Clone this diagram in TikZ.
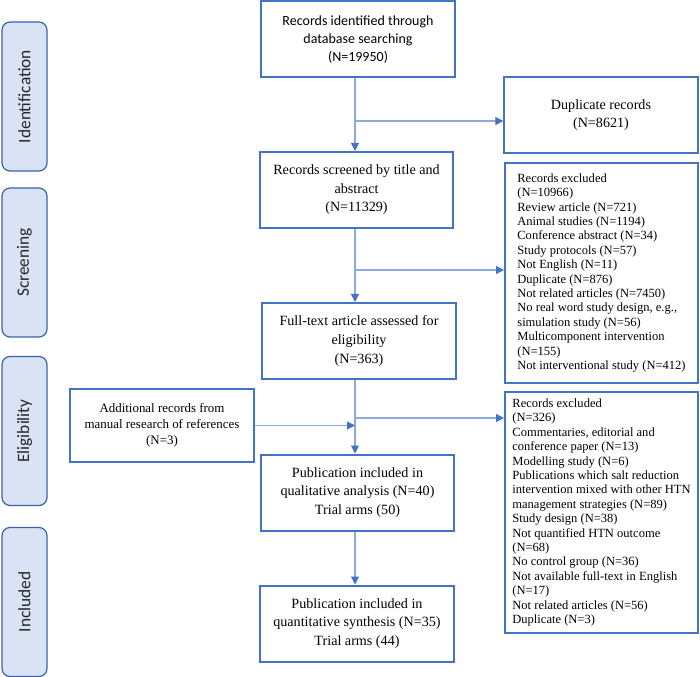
\documentclass[tikz,border=0pt]{standalone}
\usepackage{fontspec}
\setmainfont{Liberation Serif}
\newfontfamily\calibrifont{Carlito}
\usetikzlibrary{arrows.meta}
\definecolor{boxblue}{HTML}{4472C4}
\definecolor{linkblue}{HTML}{8EAADB}
\definecolor{phasefill}{HTML}{DAE3F3}
\definecolor{phaseline}{HTML}{3A62A8}
\tikzset{
    mainbox/.style={draw=boxblue, line width=1.5pt, align=center, minimum width=145pt, minimum height=57pt, font=\fontsize{10.6}{13.9}\selectfont},
    listbox/.style={draw=boxblue, line width=1.5pt, align=left, minimum width=144.75pt, font=\fontsize{9.4}{10.8}\selectfont},
    phasebox/.style={draw=phaseline, fill=phasefill, line width=0.9pt, rounded corners=6pt, rotate=90, minimum width=111.75pt, minimum height=33.75pt, text=black!85, font=\calibrifont\fontsize{13}{15}\selectfont},
    link/.style={draw=linkblue, line width=0.8pt, -{Triangle[length=6pt,width=6pt,color=boxblue]}}
}
\begin{document}
\begin{tikzpicture}[x=0.75pt,y=-0.75pt]
        \useasboundingbox (0,0) rectangle (700,677);
        \node[phasebox] (identification) at (24.5,96.5) {Identification};
        \node[phasebox] (screening) at (24.5,262.5) {Screening};
        \node[phasebox] (eligibility) at (24.5,431) {Eligibility};
        \node[phasebox] (included) at (24.5,602) {Included};
        \node[mainbox, font=\calibrifont\fontsize{10.5}{13.7}\selectfont] (identified) at (358,39.5) {Records identified through\\database searching\\(N=19950)};
        \node[mainbox] (duplicates) at (601,115) {Duplicate records\\(N=8621)};
        \node[mainbox] (screened) at (356.5,190) {Records screened by title and\\abstract\\(N=11329)};
        \node[listbox, minimum height=165pt] (excludedA) at (601.5,273) {Records excluded\\(N=10966)\\Review article (N=721)\\Animal studies (N=1194)\\Conference abstract (N=34)\\Study protocols (N=57)\\Not English (N=11)\\Duplicate (N=876)\\Not related articles (N=7450)\\No real word study design, e.g.,\\simulation study (N=56)\\Multicomponent intervention\\(N=155)\\Not interventional study (N=412)};
        \node[mainbox] (fulltext) at (359,341) {Full-text article assessed for\\eligibility\\(N=363)};
        \node[listbox, minimum height=180.75pt] (excludedB) at (601.5,512.5) {Records excluded\\(N=326)\\Commentaries, editorial and\\conference paper (N=13)\\Modelling study (N=6)\\Publications which salt reduction\\intervention mixed with other HTN\\management strategies (N=89)\\Study design (N=38)\\Not quantified HTN outcome\\(N=68)\\No control group (N=36)\\Not available full-text in English\\(N=17)\\Not related articles (N=56)\\Duplicate (N=3)};
        \node[mainbox, minimum width=138pt, minimum height=54.75pt, font=\fontsize{9.7}{12}\selectfont] (additional) at (162,425.5) {Additional records from\\manual research of references\\(N=3)};
        \node[mainbox] (qualitative) at (357.5,492.5) {Publication included in\\qualitative analysis (N=40)\\Trial arms (50)};
        \node[mainbox] (quantitative) at (357,623.5) {Publication included in\\quantitative synthesis (N=35)\\Trial arms (44)};
        \coordinate (spine) at (355,0);
        \coordinate (dupjoin) at (355,121);
        \coordinate (screenjoin) at (355,270);
        \coordinate (fulljoin) at (355,418);
        \draw[link] (identified.south -| spine) -- (screened.north -| spine);
        \draw[link] (dupjoin) -- (dupjoin -| duplicates.west);
        \draw[link] (screened.south -| spine) -- (fulltext.north -| spine);
        \draw[link] (screenjoin) -- (screenjoin -| excludedA.west);
        \draw[link] (fulltext.south -| spine) -- (qualitative.north -| spine);
        \draw[link] (fulljoin) -- (fulljoin -| excludedB.west);
        \draw[link] (additional.east) -- (additional.east -| spine);
        \draw[link] (qualitative.south -| spine) -- (quantitative.north -| spine);
\end{tikzpicture}
\end{document}
